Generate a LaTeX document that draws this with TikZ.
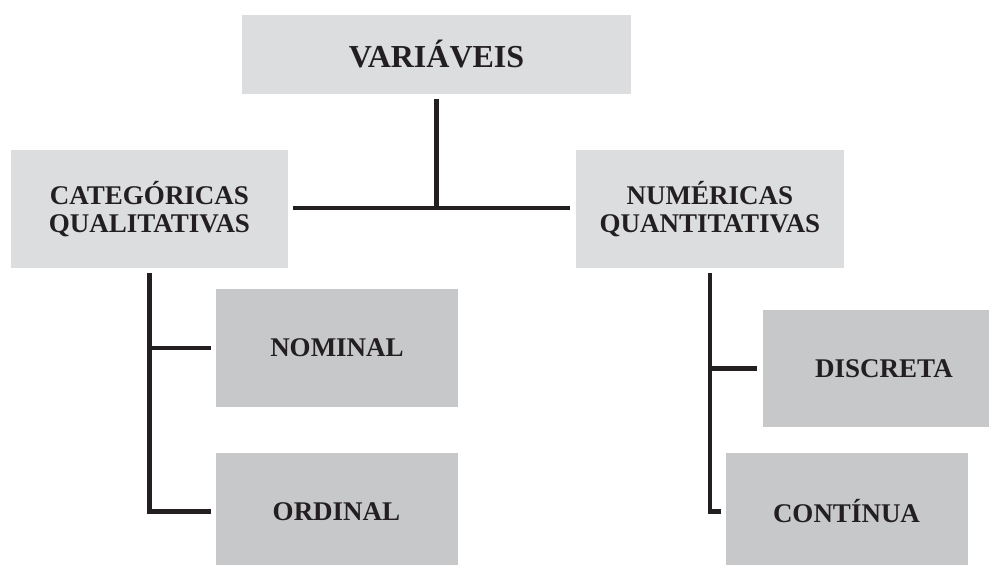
\documentclass[tikz,border=0pt]{standalone}
\usepackage{fontspec}
\setmainfont{Liberation Serif}
\definecolor{boxlight}{HTML}{DCDDDF}
\definecolor{boxdark}{HTML}{C7C8CA}
\definecolor{ink}{HTML}{231F20}
\tikzset{
  lightbox/.style={fill=boxlight, draw=none, inner sep=0pt, outer sep=0pt,
    align=center, text=ink, font=\fontsize{27}{28}\selectfont\bfseries},
  darkbox/.style={lightbox, fill=boxdark},
  conn/.style={draw=ink, line width=4.5pt, line cap=butt, line join=miter}
}
\begin{document}
\begin{tikzpicture}[x=1pt, y=-1pt]
  \useasboundingbox (0,0) rectangle (989,565);
  \clip (0,0) rectangle (989,565);
  % top level
  \node[lightbox, minimum width=389pt, minimum height=79pt,
        font=\fontsize{32}{34}\selectfont\bfseries] (var) at (436.5,54.5) {VARIÁVEIS};
  % second level
  \node[lightbox, minimum width=277pt, minimum height=118pt] (cat) at (149.5,209)
        {CATEGÓRICAS\\QUALITATIVAS};
  \node[lightbox, minimum width=268pt, minimum height=118pt] (num) at (710,209)
        {NUMÉRICAS\\QUANTITATIVAS};
  % third level
  \node[darkbox, minimum width=242pt, minimum height=118pt] (nom) at (337,348) {NOMINAL};
  \node[darkbox, minimum width=242pt, minimum height=117pt] (ord) at (336.5,511.5) {ORDINAL};
  \node[darkbox, minimum width=242pt, minimum height=117pt] (dis) at (884,368.5) {DISCRETA};
  \node[darkbox, minimum width=242pt, minimum height=117pt] (con) at (846.5,511.5) {CONTÍNUA};
  % connectors
  \draw[conn] ([yshift=-5pt]var.south) -- (var.south |- 0,208);
  \draw[conn] ([xshift=5pt]cat.east |- 0,208) -- ([xshift=-6pt]num.west |- 0,208);
  \draw[conn] ([yshift=-5pt]cat.south) |- ([xshift=-5pt]ord.west);
  \draw[conn] (cat.south |- nom.west) -- ([xshift=-5pt]nom.west);
  \draw[conn] ([yshift=-5pt]num.south) |- ([xshift=-5pt]con.west);
  \draw[conn] (num.south |- dis.west) -- ([xshift=-6pt]dis.west);
\end{tikzpicture}
\end{document}
